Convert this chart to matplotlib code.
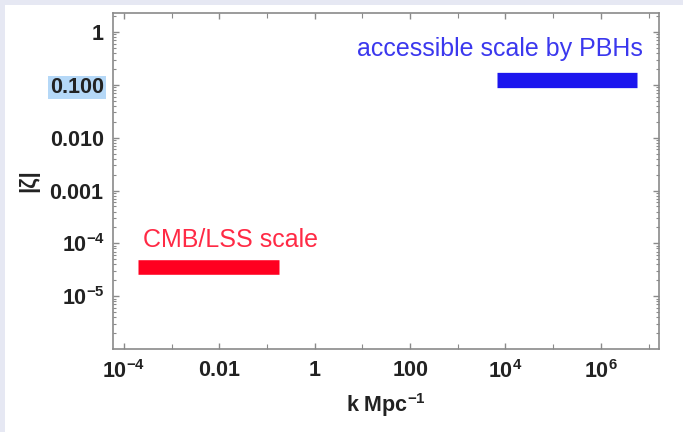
import matplotlib
matplotlib.use('Agg')
import matplotlib.pyplot as plt
from matplotlib.patches import Rectangle
from matplotlib.ticker import FixedLocator, NullFormatter
import numpy as np

plt.rcParams['font.family'] = ['Liberation Sans', 'DejaVu Sans']
plt.rcParams['mathtext.fontset'] = 'custom'
plt.rcParams['mathtext.rm'] = 'Liberation Sans:bold'
plt.rcParams['mathtext.bf'] = 'Liberation Sans:bold'
plt.rcParams['mathtext.default'] = 'bf'

# scale bands (k range, |zeta| level)
cmb_k = [2.0e-4, 0.18]
cmb_zeta = [3.5e-5, 3.5e-5]
pbh_k = [6.5e3, 5.7e6]
pbh_zeta = [0.125, 0.125]

x_major = [1e-4, 1e-2, 1, 1e2, 1e4, 1e6]
x_major_labels = ['$10^{-4}$', '$0.01$', '$1$', '$100$', '$10^{4}$', '$10^{6}$']
x_minor = [1e-3, 1e-1, 1e1, 1e3, 1e5, 1e7]
y_major = [1, 0.1, 0.01, 0.001, 1e-4, 1e-5]
y_major_labels = ['$1$', '$0.100$', '$0.010$', '$0.001$', '$10^{-4}$', '$10^{-5}$']

fig = plt.figure(figsize=(6.83, 4.32), dpi=100)
fig.patch.set_facecolor('white')
# light frame strips of the screenshot
fig.patches.append(Rectangle((0, 0), 5 / 683, 1, transform=fig.transFigure,
                             facecolor='#e6e8f3', edgecolor='none'))
fig.patches.append(Rectangle((0, 1 - 5 / 432), 1, 5 / 432, transform=fig.transFigure,
                             facecolor='#e6e8f3', edgecolor='none'))

ax = fig.add_axes([113 / 683, 1 - 349 / 432, 546 / 683, 336 / 432])
ax.set_xscale('log')
ax.set_yscale('log')
ax.set_xlim(10 ** -4.23, 10 ** 7.22)
ax.set_ylim(1e-6, 10 ** 0.36)

ax.plot(cmb_k, cmb_zeta, color='#ff0020', lw=10.5, solid_capstyle='butt')
ax.plot(pbh_k, pbh_zeta, color='#1c16ee', lw=11, solid_capstyle='butt')

ax.text(2.5e-4, 8.4e-5, 'CMB/LSS scale', color='#ff2a45', fontsize=18,
        ha='left', va='baseline')
ax.text(7.6e6, 0.355, 'accessible scale by PBHs', color='#3b38ee', fontsize=18,
        ha='right', va='baseline')

ax.xaxis.set_major_locator(FixedLocator(x_major))
ax.xaxis.set_minor_locator(FixedLocator(x_minor))
ax.set_xticklabels(x_major_labels)
ax.xaxis.set_minor_formatter(NullFormatter())

ax.yaxis.set_major_locator(FixedLocator(y_major))
ax.yaxis.set_minor_locator(matplotlib.ticker.LogLocator(base=10, subs=np.arange(2, 10), numticks=20))
ax.set_yticklabels(y_major_labels)
ax.yaxis.set_minor_formatter(NullFormatter())

for sp in ax.spines.values():
    sp.set_color('#8a8a8a')
    sp.set_linewidth(1.2)
ax.tick_params(which='both', direction='in', top=True, right=True, color='#8a8a8a',
               labelcolor='#222222')
ax.tick_params(which='major', length=4, width=1, labelsize=15.5, pad=6)
ax.tick_params(axis='x', which='major', pad=8)
ax.tick_params(which='minor', length=2.5, width=0.8)
ax.tick_params(axis='x', which='minor', length=3.5)

# selection highlight seen on the 0.100 label
ax.get_yticklabels()[1].set_bbox(dict(facecolor='#b5d8f7', edgecolor='none', pad=1))

ax.set_xlabel('k Mpc$^{-1}$', fontsize=15.5, fontweight='bold', color='#222222')
ax.set_ylabel('|ζ|', fontsize=16, fontweight='bold', color='#222222')
ax.xaxis.set_label_coords(0.5, (349 - 405) / 336)
ax.xaxis.label.set_va('center')
ax.yaxis.set_label_coords((29 - 113) / 546, 0.5)
ax.yaxis.label.set_va('center')

fig.savefig('out.png', dpi=100)
